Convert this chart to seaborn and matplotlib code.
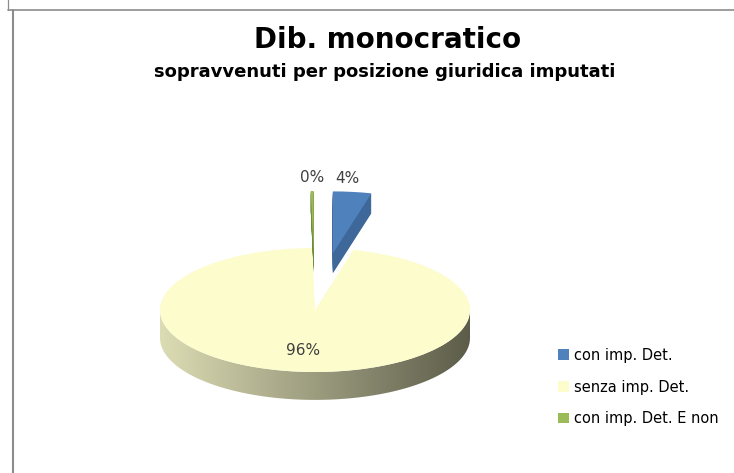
import matplotlib.pyplot as plt
import numpy as np
import seaborn as sns
from matplotlib.colors import LinearSegmentedColormap
from matplotlib.lines import Line2D
from matplotlib.patches import PathPatch, Wedge
from matplotlib.path import Path

# Chart data
categories = ["con imp. Det.", "senza imp. Det.", "con imp. Det. E non"]
shares = [4.0, 95.7, 0.3]
explode = [0.92, 0.0, 0.92]
top_colors = ["#4F81BD", "#FCFCCC", "#9BBB59"]
side_colors = ["#3E6899", "#B9B99A", "#6F8B3C"]
wall_colors = ["#DCDCB4", "#5C5C4A"]

title = "Dib. monocratico"
subtitle = "sopravvenuti per posizione giuridica imputati"

sns.set_theme(style="white")
plt.rcParams["font.family"] = ["DejaVu Sans"]

W, H = 734, 473
fig = plt.figure(figsize=(W / 100, H / 100), dpi=100)

# pie centre / radii in pixels, flattened to look tilted
cx, cy, rx, ry = 315, 310, 155, 62
xlim = (-1.25, 1.25)
ylim = (-1.8, 2.4)
depth = 0.45
small_depth = 0.32
ax = fig.add_axes([(cx + xlim[0] * rx) / W, (H - cy + ylim[0] * ry) / H,
                   (xlim[1] - xlim[0]) * rx / W, (ylim[1] - ylim[0]) * ry / H])

wedges, texts, autotexts = ax.pie(
    shares, explode=explode, colors=top_colors, startangle=90, counterclock=False,
    autopct=lambda p: f"{p:.0f}%", pctdistance=0.66,
    wedgeprops=dict(linewidth=0),
    textprops=dict(color="#404040", fontsize=11))

# side wall of the big slice with a left-to-right shading
t = np.linspace(np.pi, 2 * np.pi, 200)
lower = np.column_stack([np.cos(t), np.sin(t) - depth])
upper = np.column_stack([np.cos(t[::-1]), np.sin(t[::-1])])
clip = PathPatch(Path(np.vstack([lower, upper, lower[:1]]), closed=True),
                 facecolor="none", edgecolor="none", transform=ax.transData)
ax.add_patch(clip)
grad = np.linspace(0, 1, 256)[None, :]
cmap = LinearSegmentedColormap.from_list("wall", wall_colors)
im = ax.imshow(grad, extent=(-1, 1, -1 - depth, 0), cmap=cmap, aspect="auto", zorder=1)
im.set_clip_path(clip)

for i, w in enumerate(wedges):
    if explode[i] == 0:
        w.set_zorder(2)
        continue
    # extrude exploded slices downwards
    for off in np.linspace(-small_depth, 0, 25)[:-1]:
        ax.add_patch(Wedge((w.center[0], w.center[1] + off), w.r, w.theta1, w.theta2,
                           facecolor=side_colors[i], linewidth=0, zorder=3))
    w.set_zorder(4)
    mid = np.deg2rad((w.theta1 + w.theta2) / 2)
    autotexts[i].set_position((w.center[0] + 1.22 * np.cos(mid) * 0.6,
                               w.center[1] + 1.22 * np.sin(mid)))
for txt in autotexts:
    txt.set_zorder(6)

ax.set_aspect("auto")
ax.set_xlim(xlim)
ax.set_ylim(ylim)
ax.axis("off")

fig.text(388 / W, 1 - 40 / H, title, ha="center", va="center",
         fontsize=20, fontweight="bold", color="black")
fig.text(385 / W, 1 - 72 / H, subtitle, ha="center", va="center",
         fontsize=13, fontweight="bold", color="black")

fig.legend(wedges, categories, loc="center left", bbox_to_anchor=(545 / W, 1 - 387 / H),
           frameon=False, handlelength=0.72, handleheight=0.72, handletextpad=0.35,
           labelspacing=1.15, fontsize=10.5, labelcolor="black")

# outer frame lines
grey = "#8C8C8C"
fig.add_artist(Line2D([7.5 / W, 7.5 / W], [1, 1 - 10.5 / H], color=grey, lw=0.9,
                      transform=fig.transFigure))
fig.add_artist(Line2D([7.5 / W, 1], [1 - 10.5 / H, 1 - 10.5 / H], color=grey, lw=1.2,
                      transform=fig.transFigure))
fig.add_artist(Line2D([12.5 / W, 12.5 / W], [1 - 10.5 / H, 0], color=grey, lw=1.5,
                      transform=fig.transFigure))

fig.savefig("out.png", dpi=100, facecolor="white")
